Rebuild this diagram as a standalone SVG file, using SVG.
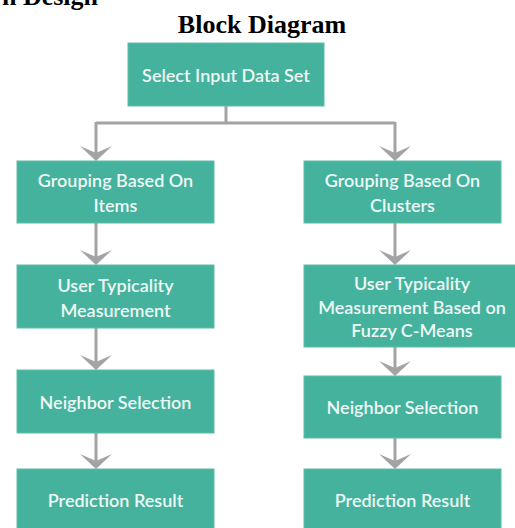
<svg xmlns="http://www.w3.org/2000/svg" xmlns:xlink="http://www.w3.org/1999/xlink" width="515" height="528" viewBox="0 0 515 528">
<style>
.title{font-family:"Liberation Serif","Times New Roman",serif;font-weight:bold;font-size:26px;fill:#000}
.box{fill:#45B29D;stroke:#5cbca8;stroke-width:1}
.lbl{font-family:Lato,"Open Sans",sans-serif;font-weight:600;font-size:18px;fill:#eef8f5;text-anchor:middle;dominant-baseline:central}
.conn{stroke:#a3a3a3;stroke-width:3;fill:none}
.ah{fill:#a3a3a3}
</style>
<defs>
<path id="ah" class="ah" d="M0,0 L-16,-15 L0,-8 L16,-15 Z"/>
</defs>
<rect width="515" height="528" fill="#fff"/>
<text class="title" x="98" y="5" text-anchor="end">n Design</text>
<text class="title" x="262" y="33" text-anchor="middle">Block Diagram</text>

<g id="connectors">
<path class="conn" d="M226,106 V123 M96,123 H395 M96,122 V155 M395,122 V155"/>
<path class="conn" d="M96,223 V259 M395,223 V259"/>
<path class="conn" d="M96,328 V364 M395,347 V370 M96,433 V463 M395,438 V463"/>
<use href="#ah" x="96" y="161"/>
<use href="#ah" x="395" y="161"/>
<use href="#ah" x="96" y="265"/>
<use href="#ah" x="395" y="265"/>
<use href="#ah" x="96" y="370"/>
<use href="#ah" x="395" y="376"/>
<use href="#ah" x="96" y="469"/>
<use href="#ah" x="395" y="469"/>
</g>

<g id="n0"><rect class="box" x="128" y="43" width="196" height="63"/><text class="lbl" x="226" y="75">Select Input Data Set</text></g>

<g id="l1"><rect class="box" x="17" y="161" width="197" height="62"/><text class="lbl" x="115.5" y="180">Grouping Based On</text><text class="lbl" x="115.5" y="205">Items</text></g>
<g id="l2"><rect class="box" x="17" y="265" width="197" height="63"/><text class="lbl" x="115.5" y="285">User Typicality</text><text class="lbl" x="115.5" y="310">Measurement</text></g>
<g id="l3"><rect class="box" x="17" y="370" width="197" height="63"/><text class="lbl" x="115.5" y="402">Neighbor Selection</text></g>
<g id="l4"><rect class="box" x="17" y="469" width="197" height="64"/><text class="lbl" x="115.5" y="500">Prediction Result</text></g>

<g id="r1"><rect class="box" x="304" y="161" width="197" height="62"/><text class="lbl" x="402.5" y="180">Grouping Based On</text><text class="lbl" x="402.5" y="205">Clusters</text></g>
<g id="r2"><rect class="box" x="304" y="265" width="216" height="82"/><text class="lbl" x="412" y="283">User Typicality</text><text class="lbl" x="412" y="307">Measurement Based on</text><text class="lbl" x="412" y="330">Fuzzy C-Means</text></g>
<g id="r3"><rect class="box" x="304" y="376" width="197" height="62"/><text class="lbl" x="402.5" y="407">Neighbor Selection</text></g>
<g id="r4"><rect class="box" x="304" y="469" width="197" height="64"/><text class="lbl" x="402.5" y="500">Prediction Result</text></g>
</svg>
